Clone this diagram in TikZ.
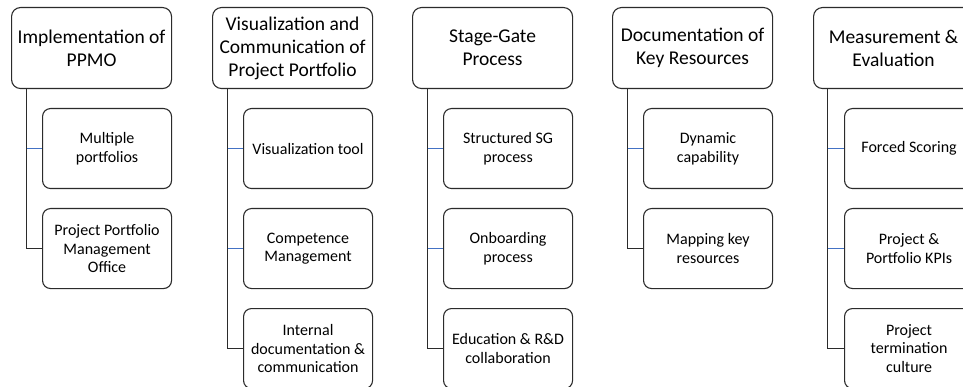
\documentclass[tikz,border=0pt]{standalone}
\usepackage{fontspec}
\setmainfont{Carlito}
\usetikzlibrary{calc}
\definecolor{boxline}{HTML}{2B2B2B}
\definecolor{tickblue}{HTML}{4472C4}
\tikzset{
  headbox/.style={draw=boxline, line width=1.1pt, rounded corners=9pt, anchor=north west,
    minimum width=160pt, minimum height=81pt, inner sep=1pt, align=center,
    font=\fontsize{19.5}{23}\selectfont},
  childbox/.style={draw=boxline, line width=1.1pt, rounded corners=8pt, anchor=north west,
    minimum width=129pt, minimum height=80pt, inner sep=1pt, align=center,
    font=\fontsize{16}{18.7}\selectfont},
  trunk/.style={draw=boxline, line width=1.1pt},
  tick/.style={draw=tickblue, line width=0.9pt}
}
\begin{document}
\begin{tikzpicture}[x=1pt,y=-1pt]
\useasboundingbox (0,0) rectangle (963,387);
\clip (0,0) rectangle (963,387);

% Column 1
\node[headbox] (h1) at (11,7) {Implementation of\\PPMO};
\node[childbox] (c11) at (42,108) {Multiple\\portfolios};
\node[childbox] (c12) at (42,208) {Project Portfolio\\Management\\Office};
\coordinate (v1) at ($(h1.south west)+(15.5,0)$);
\draw[trunk] (v1) |- (c12.west);
\draw[tick] (v1 |- c11.west) -- (c11.west);

% Column 2
\node[headbox] (h2) at (212,7) {Visualization and\\Communication of\\Project Portfolio};
\node[childbox] (c21) at (243,108) {Visualization tool};
\node[childbox] (c22) at (243,208) {Competence\\Management};
\node[childbox] (c23) at (243,308) {Internal\\documentation \&\\communication};
\coordinate (v2) at ($(h2.south west)+(15.5,0)$);
\draw[trunk] (v2) |- (c23.west);
\draw[tick] (v2 |- c21.west) -- (c21.west);
\draw[tick] (v2 |- c22.west) -- (c22.west);

% Column 3
\node[headbox] (h3) at (412,7) {Stage-Gate\\Process};
\node[childbox] (c31) at (443,108) {Structured SG\\process};
\node[childbox] (c32) at (443,208) {Onboarding\\process};
\node[childbox] (c33) at (443,308) {Education \& R\&D\\collaboration};
\coordinate (v3) at ($(h3.south west)+(15.5,0)$);
\draw[trunk] (v3) |- (c33.west);
\draw[tick] (v3 |- c31.west) -- (c31.west);
\draw[tick] (v3 |- c32.west) -- (c32.west);

% Column 4
\node[headbox] (h4) at (612,7) {Documentation of\\Key Resources};
\node[childbox] (c41) at (643,108) {Dynamic\\capability};
\node[childbox] (c42) at (643,208) {Mapping key\\resources};
\coordinate (v4) at ($(h4.south west)+(15.5,0)$);
\draw[trunk] (v4) |- (c42.west);
\draw[tick] (v4 |- c41.west) -- (c41.west);

% Column 5
\node[headbox] (h5) at (813,7) {Measurement \&\\Evaluation};
\node[childbox] (c51) at (844,108) {Forced Scoring};
\node[childbox] (c52) at (844,208) {Project \&\\Portfolio KPIs};
\node[childbox] (c53) at (844,308) {Project\\termination\\culture};
\coordinate (v5) at ($(h5.south west)+(14.5,0)$);
\draw[trunk] (v5) |- (c53.west);
\draw[tick] (v5 |- c51.west) -- (c51.west);
\draw[tick] (v5 |- c52.west) -- (c52.west);
\end{tikzpicture}
\end{document}
